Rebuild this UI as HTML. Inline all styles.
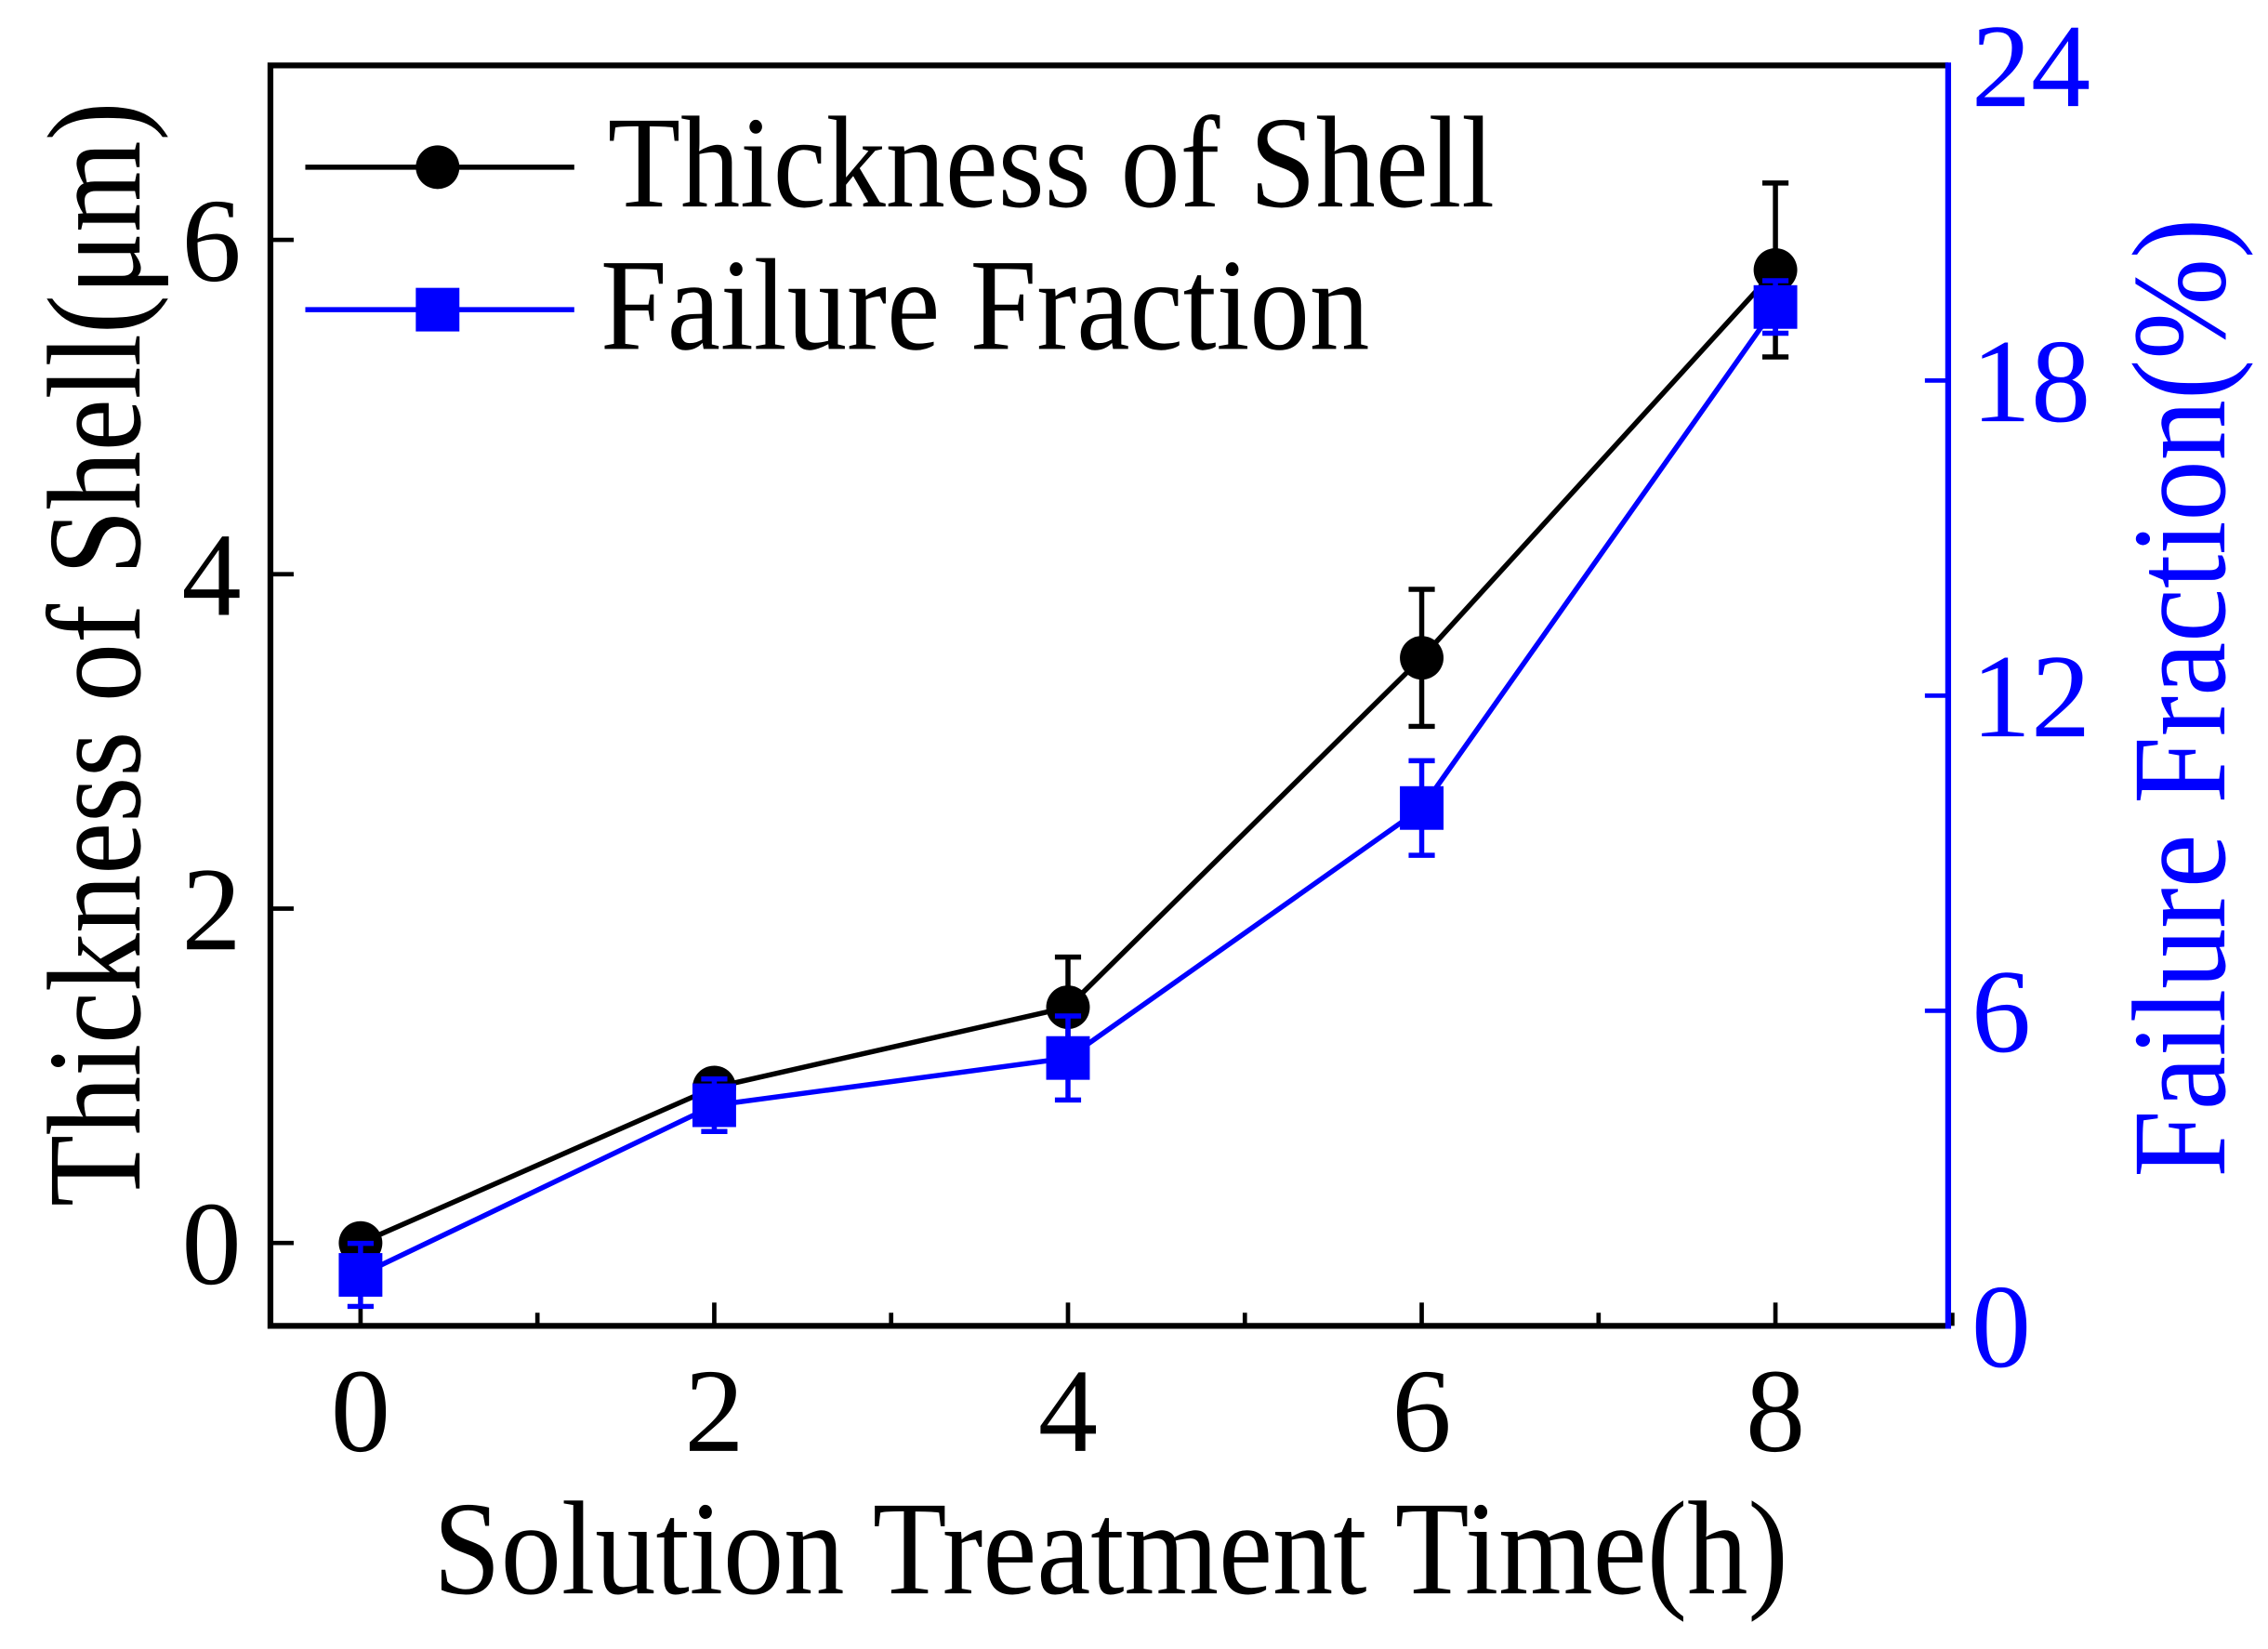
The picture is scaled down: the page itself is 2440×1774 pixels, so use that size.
<!DOCTYPE html>
<html><head><meta charset="utf-8"><style>html,body{margin:0;padding:0;background:#fff}svg{display:block}</style></head>
<body>
<svg id="chart" width="2440" height="1774" viewBox="0 0 1560 1134.3" preserveAspectRatio="none" xmlns="http://www.w3.org/2000/svg" font-family="Liberation Serif, serif"></svg>
<script>
const categories = [0, 2, 4, 6, 8];
const thickness = [0, 0.93, 1.41, 3.5, 5.82];
const thicknessErr = [0.05, 0.08, 0.3, 0.41, 0.52];
const failure = [0.97, 4.2, 5.1, 9.86, 19.4];
const failureErr = [0.6, 0.5, 0.8, 0.9, 0.5];
const xTicks = [0, 2, 4, 6, 8];
const yLeftTicks = [0, 2, 4, 6];
const yRightTicks = [0, 6, 12, 18, 24];

const L = 186, R = 1340, T = 45, B = 912;
const xs = v => 248 + (v - 0) * 121.65;
const yl = v => 855 - v * 115;
const yr = v => B - v * (B - T) / 24;
const svg = document.getElementById('chart');
const NS = 'http://www.w3.org/2000/svg';
function mk(tag, attrs, parent) {
  const e = document.createElementNS(NS, tag);
  for (const k in attrs) e.setAttribute(k, attrs[k]);
  (parent || svg).appendChild(e);
  return e;
}
function txt(s, attrs, name) {
  const e = mk('text', attrs);
  e.textContent = s;
  
  
  return e;
}
for (let h = 0; h <= 9; h++) {
  const major = h % 2 === 0;
  const t = mk('line', {x1: xs(h), x2: xs(h), y1: B, y2: B - (major ? 16 : 9), stroke: '#000', 'stroke-width': 3});
  
  
}
xTicks.forEach(v => {
  txt(String(v), {x: xs(v), y: 998, 'font-size': 82, 'text-anchor': 'middle'}, 'x-tick-label');
});
yLeftTicks.forEach(v => {
  const t = mk('line', {x1: L, x2: L + 16, y1: yl(v), y2: yl(v), stroke: '#000', 'stroke-width': 3});
  
  
  txt(String(v), {x: 166, y: yl(v) + 28, 'font-size': 82, 'text-anchor': 'end'}, 'y-left-tick-label');
});
yRightTicks.forEach(v => {
  const t = mk('line', {x1: R, x2: R - 16, y1: yr(v), y2: yr(v), stroke: '#0000ff', 'stroke-width': 3});
  
  
  txt(String(v), {x: 1356, y: yr(v) + 28, 'font-size': 82, fill: '#0000ff'}, 'y-right-tick-label');
});
const ax = mk('path', {d: `M${R},${B} L${L},${B} L${L},${T} L${R},${T}`, fill: 'none', stroke: '#000', 'stroke-width': 4});


const rax = mk('line', {x1: R, x2: R, y1: T - 2, y2: B + 2, stroke: '#0000ff', 'stroke-width': 4});


function series(vals, errs, yf, color, shape, name) {
  const g = mk('g', {});
  
  
  const pts = categories.map((c, i) => xs(c) + ',' + yf(vals[i])).join(' ');
  const pl = mk('polyline', {points: pts, fill: 'none', stroke: color, 'stroke-width': 3.5}, g);
  
  
  categories.forEach((c, i) => {
    const x = xs(c), y1 = yf(vals[i] + errs[i]), y2 = yf(vals[i] - errs[i]);
    const e = mk('path', {d: `M${x},${y1} V${y2} M${x - 9},${y1} H${x + 9} M${x - 9},${y2} H${x + 9}`, stroke: color, 'stroke-width': 3.5, fill: 'none'}, g);
    
    
    let m;
    if (shape === 'circle') m = mk('circle', {cx: x, cy: yf(vals[i]), r: 15, fill: color}, g);
    else m = mk('rect', {x: x - 15, y: yf(vals[i]) - 15, width: 30, height: 30, fill: color}, g);
    
    
  });
}
series(thickness, thicknessErr, yl, '#000', 'circle', 'thickness');
series(failure, failureErr, yr, '#0000ff', 'square', 'failure');
const lg = mk('g', {});


const l1 = mk('line', {x1: 210, x2: 395, y1: 115, y2: 115, stroke: '#000', 'stroke-width': 3.5}, lg);


const c1 = mk('circle', {cx: 301, cy: 115, r: 15, fill: '#000'}, lg);


const l2 = mk('line', {x1: 210, x2: 395, y1: 213, y2: 213, stroke: '#0000ff', 'stroke-width': 3.5}, lg);


const r2 = mk('rect', {x: 286, y: 198, width: 30, height: 30, fill: '#0000ff'}, lg);


txt('Thickness of Shell', {x: 418, y: 142, 'font-size': 90, textLength: 610, lengthAdjust: 'spacingAndGlyphs'}, 'legend-thickness-label');
txt('Failure Fraction', {x: 413, y: 240, 'font-size': 90, textLength: 529, lengthAdjust: 'spacingAndGlyphs'}, 'legend-failure-label');
txt('Solution Treatment Time(h)', {x: 298, y: 1096, 'font-size': 92, textLength: 932, lengthAdjust: 'spacingAndGlyphs'}, 'x-axis-title');
txt('Thickness of Shell(\u03bcm)', {x: 0, y: 0, 'font-size': 92, textLength: 760, lengthAdjust: 'spacingAndGlyphs', transform: 'translate(96,830) rotate(-90)'}, 'y-left-axis-title');
txt('Failure Fraction(%)', {x: 0, y: 0, 'font-size': 92, fill: '#0000ff', textLength: 660, lengthAdjust: 'spacingAndGlyphs', transform: 'translate(1530,810) rotate(-90)'}, 'y-right-axis-title');
</script>
</body></html>
